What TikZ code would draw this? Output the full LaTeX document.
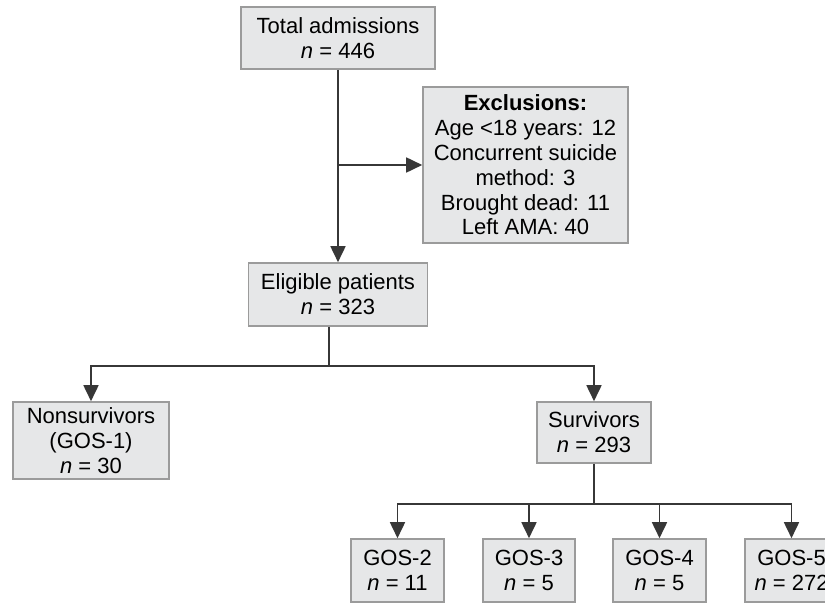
\documentclass[tikz,border=0pt]{standalone}
\usepackage{fontspec}
\setmainfont{Liberation Sans}
\usetikzlibrary{arrows.meta}
\definecolor{boxfill}{RGB}{230,231,232}
\definecolor{boxline}{RGB}{155,155,155}
\definecolor{linkline}{RGB}{55,55,55}
\tikzset{
  box/.style={draw=boxline, fill=boxfill, line width=0.8pt, align=center,
    inner sep=0pt, font=\fontsize{11}{12.4}\selectfont},
  arr/.style={draw=linkline, line width=0.85pt, -{Triangle[length=8pt,width=7.5pt]}},
  link/.style={draw=linkline, line width=0.85pt}
}
\begin{document}
\begin{tikzpicture}[x=0.5pt, y=-0.5pt]
        \clip (0,0) rectangle (825,605);
        \fill[white] (0,0) rectangle (825,605);

        \node[box, minimum width=97pt, minimum height=31pt] (total) at (338,38)
            {Total admissions\\\textit{n} = 446};
        \node[box, minimum width=102.5pt, minimum height=78pt] (excl) at (525.5,165)
            {\textbf{Exclusions:}\\Age <18 years: 12\\Concurrent suicide\\method: 3\\Brought dead: 11\\Left AMA: 40};
        \node[box, minimum width=89.5pt, minimum height=31.5pt] (elig) at (338,294.5)
            {Eligible patients\\\textit{n} = 323};

        \node[box, minimum width=78pt, minimum height=38.5pt] (nonsurv) at (91,440.5)
            {Nonsurvivors\\(GOS-1)\\\textit{n} = 30};
        \node[box, minimum width=57pt, minimum height=30.5pt] (surv) at (594,432.5)
            {Survivors\\\textit{n} = 293};

        \node[box, minimum width=46.5pt, minimum height=31.5pt] (gos2) at (397.5,570.5)
            {GOS-2\\\textit{n} = 11};
        \node[box, minimum width=46pt, minimum height=31.5pt] (gos3) at (529,570.5)
            {GOS-3\\\textit{n} = 5};
        \node[box, minimum width=46.5pt, minimum height=31.5pt] (gos4) at (659.5,570.5)
            {GOS-4\\\textit{n} = 5};
        \node[box, minimum width=46.5pt, minimum height=31.5pt] (gos5) at (791.5,570.5)
            {GOS-5\\\textit{n} = 272};

        % admissions to eligible, with exclusions on the side
        \draw[arr] (total.south) -- (elig.north);
        \draw[arr] (total.south |- excl.west) -- (excl.west);

        % eligible split
        \coordinate (split) at ([xshift=-4.5pt]elig.south);
        \draw[link] (split) -- ++(0,39) coordinate (splitbar);
        \draw[arr] (splitbar) -| (nonsurv.north);
        \draw[arr] (splitbar) -| (surv.north);

        % survivors split
        \draw[link] (surv.south) -- ++(0,40) coordinate (gosbar);
        \foreach \g in {gos2,gos3,gos4,gos5}
            \draw[arr] (gosbar) -| (\g.north);
\end{tikzpicture}
\end{document}
